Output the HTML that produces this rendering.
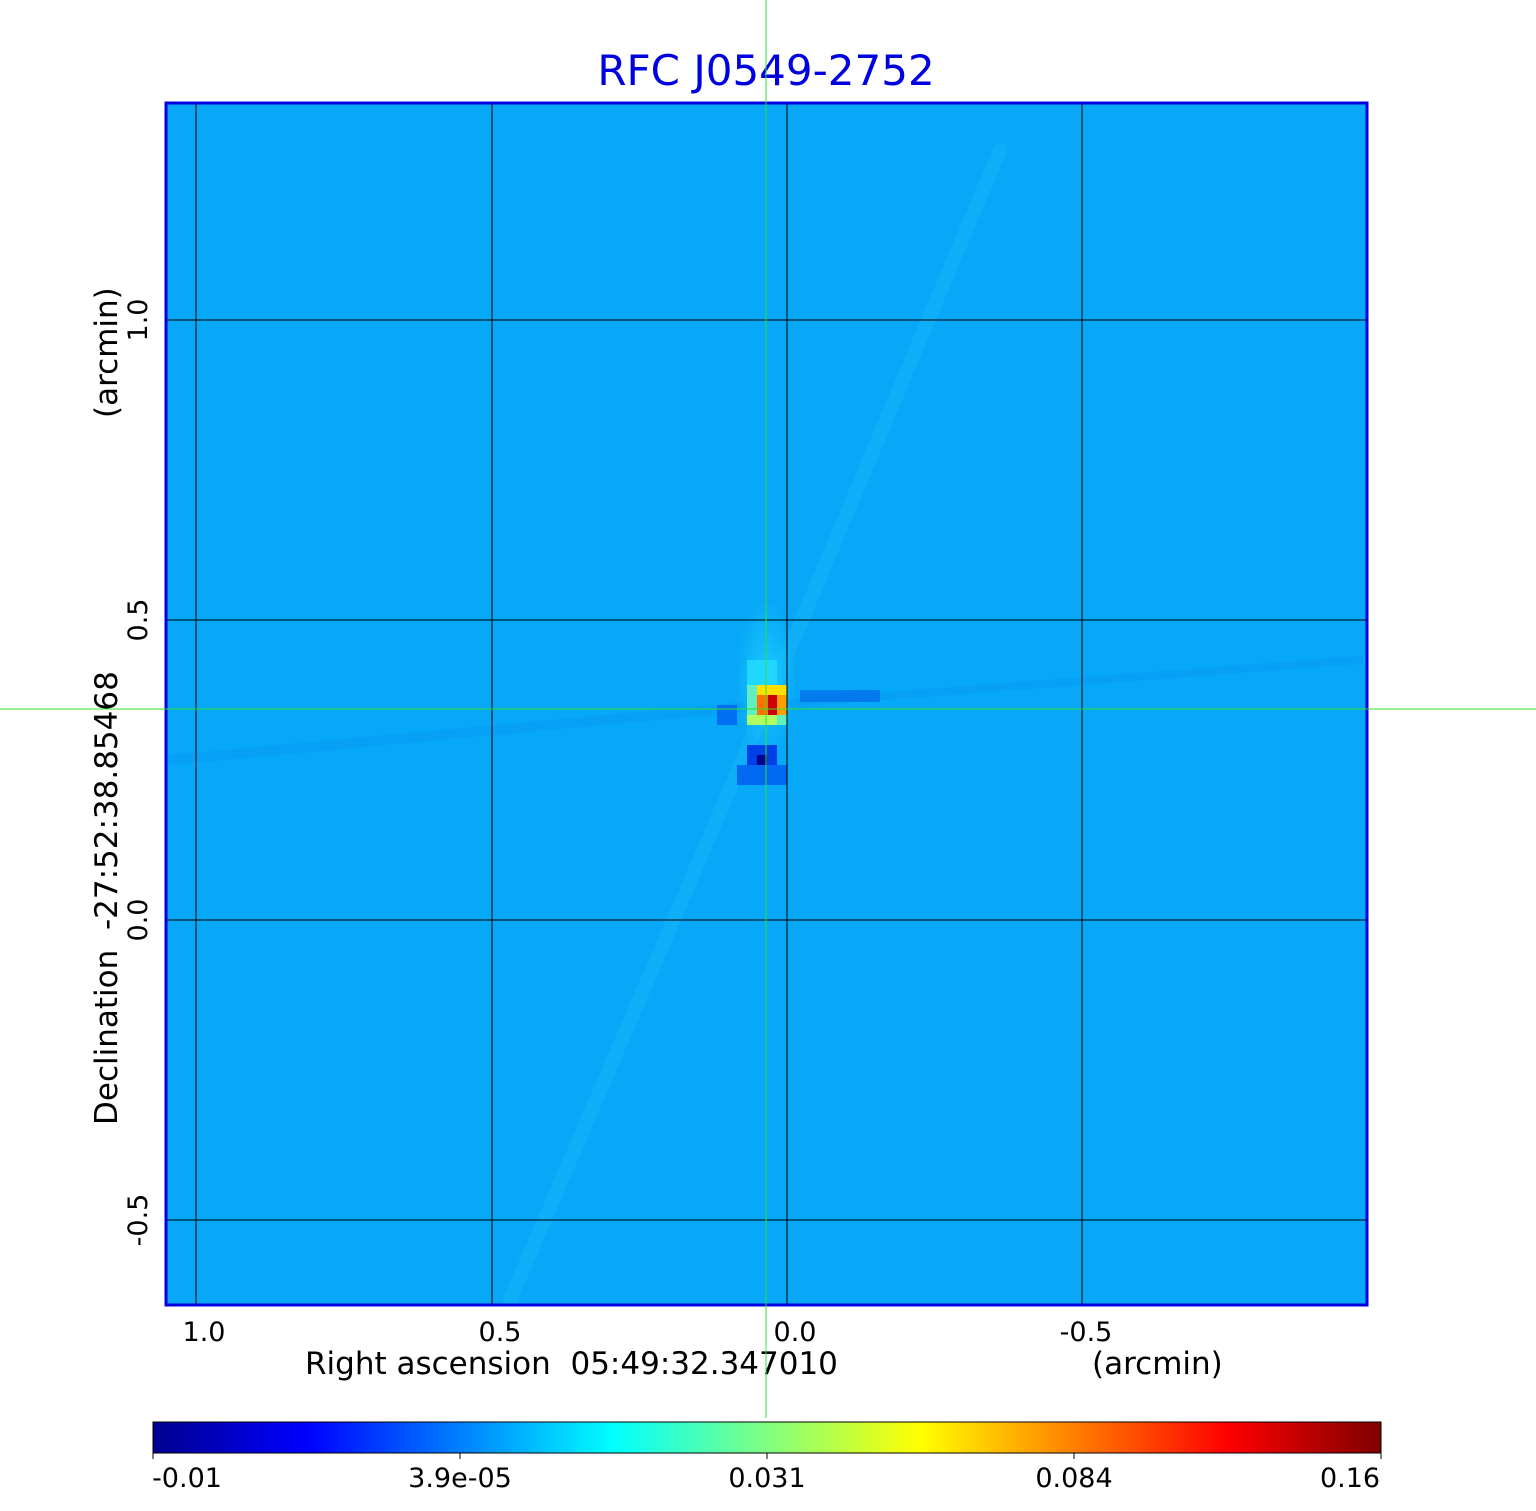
<!DOCTYPE html>
<html><head><style>
body{margin:0;background:#fff;}
svg{display:block;font-family:"DejaVu Sans","Liberation Sans",sans-serif;}
</style></head><body>
<svg width="1536" height="1511" viewBox="0 0 1536 1511">
<defs>
<linearGradient id="jet" x1="0" x2="1" y1="0" y2="0">
<stop offset="0" stop-color="#00008f"/>
<stop offset="0.125" stop-color="#0000ff"/>
<stop offset="0.375" stop-color="#00ffff"/>
<stop offset="0.5" stop-color="#80ff80"/>
<stop offset="0.625" stop-color="#ffff00"/>
<stop offset="0.875" stop-color="#ff0000"/>
<stop offset="1" stop-color="#800000"/>
</linearGradient>
<radialGradient id="glow" cx="0.5" cy="0.5" r="0.5">
<stop offset="0" stop-color="#20d8ff" stop-opacity="0.7"/>
<stop offset="1" stop-color="#20d8ff" stop-opacity="0"/>
</radialGradient>
</defs>
<text x="766" y="85" font-size="42" fill="#0000e0" text-anchor="middle">RFC J0549-2752</text>
<rect x="166" y="103" width="1201" height="1202" fill="#08a8f8"/>
<g stroke-linecap="round" opacity="0.15">
<line x1="766" y1="705" x2="1000" y2="150" stroke="#30d0ff" stroke-width="14"/>
<line x1="766" y1="705" x2="510" y2="1300" stroke="#30d0ff" stroke-width="14"/>
<line x1="766" y1="705" x2="170" y2="760" stroke="#0080f0" stroke-width="10"/>
<line x1="766" y1="705" x2="1360" y2="660" stroke="#0080f0" stroke-width="8"/>
</g>
<ellipse cx="766" cy="680" rx="30" ry="80" fill="url(#glow)"/>
<rect x="747" y="660" width="30" height="30" fill="#20d8ff"/>
<rect x="747" y="685" width="40" height="40" fill="#60f0c0"/>
<rect x="757" y="685" width="30" height="10" fill="#ffe000"/>
<rect x="757" y="695" width="11" height="20" fill="#ff7000"/>
<rect x="768" y="695" width="9" height="20" fill="#d00000"/>
<rect x="777" y="695" width="10" height="20" fill="#ffa000"/>
<rect x="747" y="715" width="30" height="10" fill="#b0ff60"/>
<rect x="717" y="705" width="20" height="20" fill="#0060f0" opacity="0.8"/>
<rect x="800" y="690" width="80" height="12" fill="#0060e8" opacity="0.6"/>
<rect x="737" y="765" width="50" height="20" fill="#0058f0" opacity="0.8"/>
<rect x="747" y="745" width="30" height="20" fill="#0040e8"/>
<rect x="757" y="755" width="10" height="10" fill="#000090"/>
<g stroke="#000" stroke-width="1">
<line x1="196" y1="103" x2="196" y2="1305"/><line x1="492" y1="103" x2="492" y2="1305"/>
<line x1="787" y1="103" x2="787" y2="1305"/><line x1="1082" y1="103" x2="1082" y2="1305"/>
<line x1="166" y1="320" x2="1367" y2="320"/><line x1="166" y1="620" x2="1367" y2="620"/>
<line x1="166" y1="920" x2="1367" y2="920"/><line x1="166" y1="1220" x2="1367" y2="1220"/>
</g>
<rect x="166" y="103" width="1201" height="1202" fill="none" stroke="#0000e0" stroke-width="3"/>
<g font-size="27" fill="#000">
<text x="204" y="1341" text-anchor="middle">1.0</text>
<text x="500" y="1341" text-anchor="middle">0.5</text>
<text x="795" y="1341" text-anchor="middle">0.0</text>
<text x="1086" y="1341" text-anchor="middle">-0.5</text>
<text x="305" y="1374" font-size="31">Right ascension&#160;&#160;05:49:32.347010</text>
<text x="1092" y="1374" font-size="31">(arcmin)</text>
<g transform="rotate(-90)">
<text x="-320" y="147" text-anchor="middle">1.0</text>
<text x="-620" y="147" text-anchor="middle">0.5</text>
<text x="-920" y="147" text-anchor="middle">0.0</text>
<text x="-1220" y="147" text-anchor="middle">-0.5</text>
<text x="-1125" y="117" font-size="31">Declination&#160;&#160;-27:52:38.85468</text>
<text x="-418" y="117" font-size="31">(arcmin)</text>
</g>
</g>
<line x1="766" y1="0" x2="766" y2="1418" stroke="#30e030" stroke-width="1"/>
<line x1="0" y1="709" x2="1536" y2="709" stroke="#30e030" stroke-width="1"/>
<rect x="153" y="1422" width="1228" height="31" fill="url(#jet)" stroke="#000" stroke-width="1"/>
<g stroke="#000"><line x1="153" y1="1453" x2="153" y2="1459"/><line x1="460" y1="1453" x2="460" y2="1459"/><line x1="767" y1="1453" x2="767" y2="1459"/><line x1="1074" y1="1453" x2="1074" y2="1459"/><line x1="1381" y1="1453" x2="1381" y2="1459"/></g>
<g font-size="27" fill="#000" text-anchor="middle">
<text x="187" y="1487">-0.01</text>
<text x="460" y="1487">3.9e-05</text>
<text x="767" y="1487">0.031</text>
<text x="1074" y="1487">0.084</text>
<text x="1350" y="1487">0.16</text>
</g>
</svg>
</body></html>
